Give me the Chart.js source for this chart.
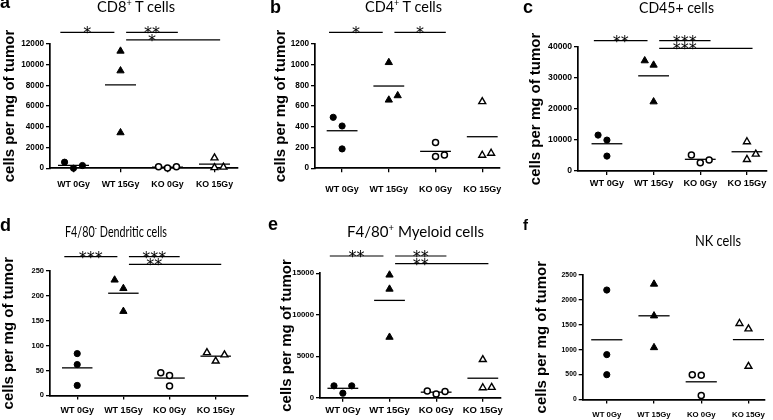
<!DOCTYPE html>
<html>
<head>
<meta charset="utf-8">
<script src="https://cdn.jsdelivr.net/npm/chart.js@4.4.1/dist/chart.umd.min.js"></script>
<style>
  body { margin: 0; background: #fff; }
  #fig { position: relative; width: 773px; height: 420px; overflow: hidden; }
  #fig canvas { position: absolute; }
  .lbl { position: absolute; white-space: nowrap; line-height: 1; color: #000; }
  .letter { font-family: "Liberation Sans", Arial, sans-serif; font-weight: bold; }
  .ptitle { font-family: Lato, sans-serif; transform-origin: 0 0; }
  .ptitle sup { font-size: 0.62em; vertical-align: 0.6em; line-height: 0; }
</style>
</head>
<body>
<div id="fig"></div>
<script>
const groups = ['WT 0Gy', 'WT 15Gy', 'KO 0Gy', 'KO 15Gy'];
const yTitle = 'cells per mg of tumor';

// cells per mg of tumor, one inner array (3 mice) per group
const cd8Values = [[0, 580, 260], [11300, 9400, 3430], [20, 150, 150], [1000, 100, 60]];
const cd4Values = [[491, 407, 186], [1020, 658, 700], [247, 112, 128], [642, 125, 144]];
const cd45Values = [[11580, 9970, 4830], [35500, 34100, 22300], [5150, 2680, 3540], [9440, 3750, 5470]];
const dcValues = [[84, 62, 20], [232, 215, 169], [45.5, 40, 19], [86, 69, 81.5]];
const myeloidValues = [[1430, 540, 1430], [14800, 13100, 7300], [800, 450, 750], [4600, 1200, 1250]];
const nkValues = [[2198, 900, 497], [2318, 1680, 1042], [497, 484, 80], [1525, 1418, 665]];

// significance brackets: [from group, to group, stars]
const cd8Sig = [[0, 1, '*'], [1, 2, '**'], [1, 3, '*']];
const cd4Sig = [[0, 1, '*'], [1, 2, '*']];
const cd45Sig = [[0, 1, '**'], [1, 2, '***'], [1, 3, '***']];
const dcSig = [[0, 1, '***'], [1, 2, '***'], [1, 3, '**']];
const myeloidSig = [[0, 1, '**'], [1, 2, '**'], [1, 3, '**']];
const nkSig = [];

// y axis tops and steps
const yMaxes = [12000, 1200, 40000, 250, 15000, 2500];
const ySteps = [2000, 200, 10000, 50, 5000, 500];

const plotH = 124.4;
const laneStep = 0.19;

// title: [text, superscript, rest]; titleAt: centre x, baseline y, font size, fitted width
const panels = [
  { letter: 'a', title: ['CD8', '+', ' T cells'], values: cd8Values, sig: cd8Sig,
    box: [0, 0, 255, 210], area: [50, 238, 43.8], yTitleX: 10, xr: [-0.5, 3.5],
    tickY: 8.2, tickX: 8.8, xPad: 7, sigTop: 11.5, titleAt: [136, 12, 16, 78], letterAt: [0, 8.5, 18] },
  { letter: 'b', title: ['CD4', '+', ' T cells'], values: cd4Values, sig: cd4Sig,
    box: [255, 0, 255, 210], area: [315, 500, 43.8], yTitleX: 280.5, xr: [-0.58, 3.38],
    tickY: 8.2, tickX: 9, xPad: 12, sigTop: 11.5, titleAt: [403, 12, 16, 77], letterAt: [270, 13, 18] },
  { letter: 'c', title: ['CD45+ cells', '', ''], values: cd45Values, sig: cd45Sig,
    box: [510, 0, 263, 210], area: [578, 767, 46.7], yTitleX: 535.5, xr: [-0.62, 3.43],
    tickY: 8.6, tickX: 9.2, xPad: 3, sigTop: 6, titleAt: [676, 13, 15, 75], letterAt: [523, 13, 18] },
  { letter: 'd', title: ['F4/80', '-', ' Dendritic cells'], values: dcValues, sig: dcSig,
    box: [0, 210, 255, 210], area: [50, 248, 271], yTitleX: 9, xr: [-0.59, 3.7],
    tickY: 7.5, tickX: 9, xPad: 5.5, sigTop: 14.3, titleAt: [116, 237.5, 15, 102], letterAt: [0, 231, 18] },
  { letter: 'e', title: ['F4/80', '+', ' Myeloid cells'], values: myeloidValues, sig: myeloidSig,
    box: [255, 210, 255, 210], area: [320, 501, 273.3], yTitleX: 286.5, xr: [-0.49, 3.39],
    tickY: 7.8, tickX: 9.5, xPad: 3, sigTop: 17.3, titleAt: [415, 237, 16, 137], letterAt: [268, 230, 18] },
  { letter: 'f', title: ['NK cells', '', ''], values: nkValues, sig: nkSig,
    box: [510, 210, 263, 210], area: [582.7, 765, 275], yTitleX: 541.5, xr: [-0.51, 3.35],
    tickY: 6.8, tickX: 7.8, xPad: 6.8, sigTop: 0, titleAt: [717.5, 246.5, 15, 46], letterAt: [523, 230, 15] }
];

// Prism-like column scatter: points that would overlap get pushed sideways
function lanes(vals, yMax) {
  const px = v => v / yMax * plotH;
  const order = vals.map((v, i) => i).sort((a, b) => vals[a] - vals[b]);
  const lane = [];
  const placed = [];
  order.forEach((idx, k) => {
    const side = k % 2 ? 1 : -1;
    for (const l of [0, side, -side, 2 * side, -2 * side]) {
      const hit = placed.some(p => p.l === l && Math.abs(px(p.v) - px(vals[idx])) < 9);
      if (!hit) {
        lane[idx] = l;
        placed.push({ l: l, v: vals[idx] });
        break;
      }
    }
  });
  return lane;
}

const mean = a => a.reduce((s, v) => s + v, 0) / a.length;

const markers = [
  { pointStyle: 'circle', pointRadius: 3.1, backgroundColor: '#000', borderWidth: 1 },
  { pointStyle: 'triangle', pointRadius: 4.2, backgroundColor: '#000', borderWidth: 1 },
  { pointStyle: 'circle', pointRadius: 3, backgroundColor: '#fff', borderWidth: 1.5 },
  { pointStyle: 'triangle', pointRadius: 4, backgroundColor: '#fff', borderWidth: 1.4 }
];

// significance bars and stars
function makeSig(p) {
  return {
    id: 'sig' + p.letter,
    afterDraw(chart) {
      const ctx = chart.ctx;
      const xs = chart.scales.x;
      ctx.save();
      ctx.fillStyle = '#000';
      ctx.strokeStyle = '#000';
      ctx.textBaseline = 'alphabetic';
      ctx.textAlign = 'center';
      ctx.font = '16px "DejaVu Sans"';
      const spans = [];
      p.sig.forEach(b => {
        const from = b[0], to = b[1];
        const start = from === 0 ? -0.28 : from + 0.12;
        const end = to === 1 ? to - 0.13 : (to === 2 ? to + 0.22 : to + 0.12);
        const level = spans.filter(s => s[0] < end && start < s[1]).length;
        spans.push([start, end]);
        const y = chart.chartArea.top - p.sigTop + level * 7.6;
        ctx.lineWidth = 1.2;
        ctx.beginPath();
        ctx.moveTo(xs.getPixelForValue(start), y);
        ctx.lineTo(xs.getPixelForValue(end), y);
        ctx.stroke();
        const sx = xs.getPixelForValue((start + Math.min(end, from + 1.22)) / 2);
        ctx.fillText(b[2], sx, y + 6);
      });
      ctx.restore();
    }
  };
}

function addLabels(fig, p) {
  const la = p.letterAt;
  const letter = document.createElement('div');
  letter.className = 'lbl letter';
  letter.textContent = p.letter;
  letter.style.fontSize = la[2] + 'px';
  letter.style.left = la[0] + 'px';
  letter.style.top = (la[1] - 0.85 * la[2]) + 'px';
  fig.appendChild(letter);

  const t = p.titleAt;
  const title = document.createElement('div');
  title.className = 'lbl ptitle';
  title.style.fontSize = t[2] + 'px';
  title.appendChild(document.createTextNode(p.title[0]));
  if (p.title[1]) {
    const sup = document.createElement('sup');
    sup.textContent = p.title[1];
    title.appendChild(sup);
  }
  if (p.title[2]) title.appendChild(document.createTextNode(p.title[2]));
  fig.appendChild(title);
  const w = title.getBoundingClientRect().width;
  const k = t[3] / w;
  title.style.left = (t[0] - t[3] / 2) + 'px';
  title.style.top = (t[1] - 0.89 * t[2]) + 'px';
  title.style.transform = 'scaleX(' + k + ')';
}

const fig = document.getElementById('fig');

panels.forEach((p, pi) => {
  const [bx, by, bw, bh] = p.box;
  const [left, right, top] = p.area;
  const yMax = yMaxes[pi];
  const canvas = document.createElement('canvas');
  canvas.width = bw;
  canvas.height = bh;
  canvas.style.left = bx + 'px';
  canvas.style.top = by + 'px';
  fig.appendChild(canvas);

  const padLeft = p.yTitleX - 9 - bx;
  const yWidth = left - bx - padLeft;
  const xHeight = by + bh - (top + plotH);

  const pointSets = p.values.map((vals, g) => {
    const lane = lanes(vals, yMax);
    return Object.assign({
      data: vals.map((v, i) => ({ x: g + lane[i] * laneStep, y: v })),
      borderColor: '#000',
      clip: false
    }, markers[g]);
  });
  const meanSets = p.values.map((vals, g) => ({
    data: [{ x: g - 0.33, y: mean(vals) }, { x: g + 0.33, y: mean(vals) }],
    showLine: true,
    borderColor: '#000',
    borderWidth: 1.3,
    pointRadius: 0,
    clip: false
  }));

  const tickFont = s => ({ family: '"Liberation Sans"', weight: 'bold', size: s });

  new Chart(canvas, {
    type: 'scatter',
    data: { datasets: pointSets.concat(meanSets) },
    options: {
      responsive: false,
      animation: false,
      devicePixelRatio: 1,
      layout: { padding: { left: padLeft, right: bx + bw - right, top: top - by, bottom: 0 } },
      plugins: { legend: { display: false }, tooltip: { enabled: false } },
      scales: {
        x: {
          type: 'linear',
          min: p.xr[0],
          max: p.xr[1],
          afterBuildTicks: s => { s.ticks = groups.map((g, i) => ({ value: i })); },
          afterFit: s => { s.height = xHeight; s.paddingLeft = 0; s.paddingRight = 0; },
          ticks: {
            callback: v => groups[v],
            autoSkip: false,
            maxRotation: 0,
            padding: p.xPad,
            color: '#000',
            font: tickFont(p.tickX)
          },
          grid: { drawOnChartArea: false, tickLength: 4, color: '#000', lineWidth: 1.3 },
          border: { color: '#000', width: 1.7 }
        },
        y: {
          min: 0,
          max: yMax,
          afterFit: s => { s.width = yWidth; s.paddingTop = 0; s.paddingBottom = 0; },
          ticks: {
            stepSize: ySteps[pi],
            callback: v => v,
            padding: 2,
            color: '#000',
            font: tickFont(p.tickY)
          },
          title: {
            display: true,
            text: yTitle,
            color: '#000',
            padding: 0,
            font: { family: '"Liberation Sans"', weight: 'bold', size: 15 }
          },
          grid: { drawOnChartArea: false, tickLength: 4, color: '#000', lineWidth: 1.3 },
          border: { color: '#000', width: 1.7 }
        }
      }
    },
    plugins: [makeSig(p)]
  });

  addLabels(fig, p);
});
</script>
</body>
</html>
